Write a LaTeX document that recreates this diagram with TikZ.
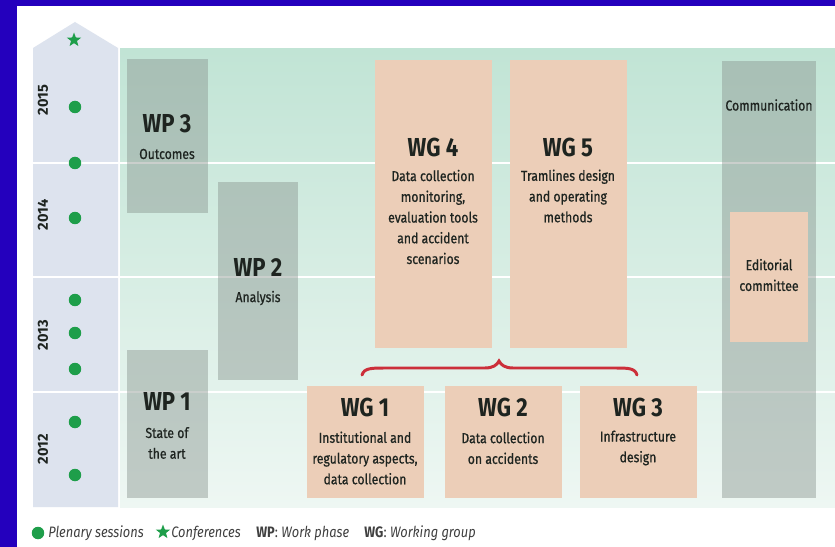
\documentclass[tikz,border=0pt]{standalone}
\usepackage{fontspec}
\setmainfont{Fira Sans}[FakeStretch=0.85]
\newfontfamily\bodyfont{Fira Sans}[FakeStretch=0.85,FakeBold=0.7]
\newfontfamily\yearfont{Fira Sans}
\usetikzlibrary{shapes.geometric}

\definecolor{frameblue}{HTML}{2400BD}
\definecolor{bandtop}{HTML}{C1E4D5}
\definecolor{bandbot}{HTML}{EEF7F3}
\definecolor{yearcol}{HTML}{DDE3EE}
\definecolor{wpgray}{HTML}{8A9590}
\definecolor{wgpeach}{HTML}{ECCEB8}
\definecolor{dotgreen}{HTML}{1E9E4A}
\definecolor{bracered}{HTML}{CC2F3A}
\definecolor{inkdark}{HTML}{1E2420}

\tikzset{
  wpbox/.style={fill=wpgray,fill opacity=.45},
  wgbox/.style={fill=wgpeach},
  title/.style={font=\fontsize{14.8}{16}\selectfont\bfseries,text=inkdark,inner sep=0},
  body/.style={font=\bodyfont\fontsize{8.2}{11.8}\selectfont,align=center,text=inkdark,inner sep=0},
  year/.style={font=\yearfont\fontsize{8.3}{9}\selectfont\bfseries,rotate=90,text=inkdark,inner sep=0},
  legend/.style={font=\fontsize{8.6}{10}\selectfont,text=black!75,anchor=west,inner sep=0},
  session/.style={fill=dotgreen},
  conf/.style={star,star points=5,star point ratio=2.4,fill=dotgreen,minimum size=.3cm,inner sep=0},
}

\begin{document}
\begin{tikzpicture}[x=.02cm,y=-.02cm]
  \useasboundingbox(0,0) rectangle(835,547);
  \fill[white](0,0) rectangle(835,547);
  \fill[frameblue](0,0) rectangle(17,547);
  \fill[frameblue](0,0) rectangle(835,6);
  % timeline column and background band
  \fill[yearcol](33,507)--(33,48)--(75,22)--(118,48)--(118,507)--cycle;
  \shade[top color=bandtop,bottom color=bandbot](120,49) rectangle(835,507);
  \foreach \y in {163,277,392}
    \draw[white,line width=1.3pt](33,\y)--(835,\y);
  % years
  \node[year] (y15) at(43,100){2015};
  \node[year] (y14) at(43,215){2014};
  \node[year] (y13) at(43,335){2013};
  \node[year] (y12) at(43,449){2012};
  \foreach \y in {107,163,218,300,333,369,422,475}
    \fill[session](75,\y) circle[radius=.125cm];
  \node[conf] (c15) at(74,40){};
  % work phases
  \fill[wpbox](127,59) rectangle(208,213);
  \fill[wpbox](218,182) rectangle(298,380);
  \fill[wpbox](127,350) rectangle(208,498);
  \node[title] (wp3) at(167,124){WP 3};
  \node[body] (wp3t) at(167,154){Outcomes};
  \node[title] (wp2) at(258,267){WP 2};
  \node[body] (wp2t) at(258,298){Analysis};
  \node[title] (wp1) at(167,401){WP 1};
  \node[body] (wp1t) at(167,443){State of\\the art};
  % working groups
  \fill[wgbox](375,60) rectangle(492,348);
  \fill[wgbox](510,60) rectangle(627,348);
  \fill[wgbox](307,386) rectangle(424,498);
  \fill[wgbox](445,386) rectangle(562,498);
  \fill[wgbox](580,386) rectangle(697,498);
  \node[title] (wg4) at(433,147){WG 4};
  \node[body] (wg4t) at(433,217){Data collection\\monitoring,\\evaluation tools\\and accident\\scenarios};
  \node[title] (wg5) at(568,147){WG 5};
  \node[body] (wg5t) at(568,196){Tramlines design\\and operating\\methods};
  \node[title] (wg1) at(365,407){WG 1};
  \node[body] (wg1t) at(365,458){Institutional and\\regulatory aspects,\\data collection};
  \node[title] (wg2) at(503,407){WG 2};
  \node[body] (wg2t) at(503,448){Data collection\\on accidents};
  \node[title] (wg3) at(638,407){WG 3};
  \node[body] (wg3t) at(638,448){Infrastructure\\design};
  % brace over WG 1-3
  \draw[bracered,line width=1.7pt,line cap=round](362,375) .. controls(364,368) and (372,368) .. (385,368)
    --(485,368) .. controls(493,368) and (497,365) .. (499,361) .. controls(501,365) and (505,368) .. (513,368)
    --(615,368) .. controls(628,368) and (635,368) .. (637,375);
  % communication
  \fill[wpbox](722,61) rectangle(816,498);
  \fill[wgbox](730,212) rectangle(808,342);
  \node[body] (comm) at(769,105){Communication};
  \node[body] (edit) at(769,275){Editorial\\committee};
  % legend
  \fill[session](38,533) circle[radius=.125cm];
  \node[legend] (lg1) at(48,533){\itshape Plenary sessions};
  \node[conf] (lgs) at(163,532){};
  \node[legend] (lg2) at(171,533){\itshape Conferences};
  \node[legend] (lg3) at(256,533){\textbf{WP}: \textit{Work phase}};
  \node[legend] (lg4) at(364,533){\textbf{WG}: \textit{Working group}};
\end{tikzpicture}
\end{document}
